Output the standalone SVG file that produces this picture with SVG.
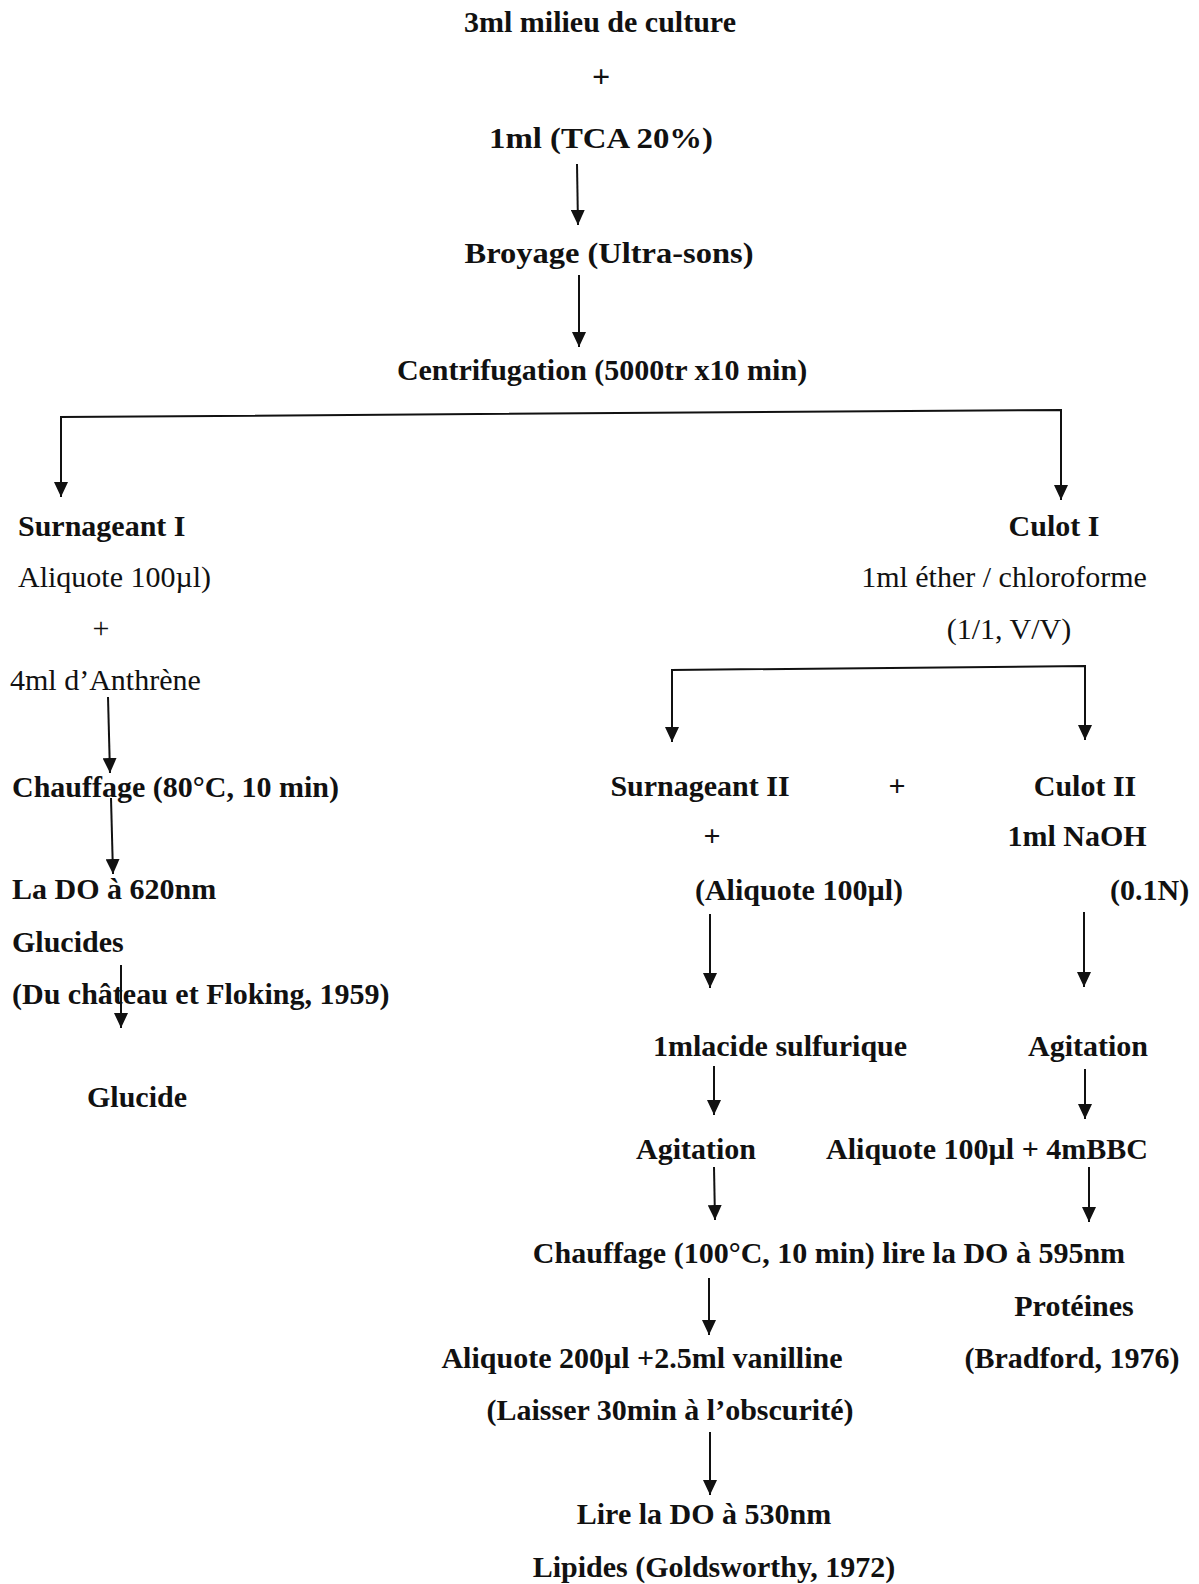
<svg xmlns="http://www.w3.org/2000/svg" width="1199" height="1584" viewBox="0 0 1199 1584">
<defs>
<marker id="ah" markerWidth="15" markerHeight="14" refX="15" refY="7" orient="auto" markerUnits="userSpaceOnUse">
<path d="M0,0 L15,7 L0,14 z" fill="#111"/>
</marker>
<style>
text{font-family:"Liberation Serif","Times New Roman",serif;font-size:30px;fill:#111}
.b{font-weight:bold}
.m{text-anchor:middle}
.c{fill:none;stroke:#111;stroke-width:2}
.a{marker-end:url(#ah)}
</style>
</defs>
<rect width="1199" height="1584" fill="#fff"/>
<g id="connectors">
<line class="c a" x1="577" y1="164" x2="578" y2="225"/>
<line class="c a" x1="579" y1="275" x2="579" y2="347"/>
<polyline class="c" points="61,440 61,417 1061,410 1061,440"/>
<line class="c a" x1="61" y1="417" x2="61" y2="497"/>
<line class="c a" x1="1061" y1="410" x2="1061" y2="500"/>
<polyline class="c" points="672,700 672,670 1085,666 1085,700"/>
<line class="c a" x1="672" y1="670" x2="672" y2="742"/>
<line class="c a" x1="1085" y1="666" x2="1085" y2="740"/>
<line class="c a" x1="108" y1="697" x2="110" y2="773"/>
<line class="c a" x1="111" y1="798" x2="113" y2="874"/>
<line class="c a" x1="121" y1="965" x2="121" y2="1028"/>
<line class="c a" x1="710" y1="914" x2="710" y2="988"/>
<line class="c a" x1="1084" y1="912" x2="1084" y2="987"/>
<line class="c a" x1="714" y1="1066" x2="714" y2="1115"/>
<line class="c a" x1="1085" y1="1069" x2="1085" y2="1119"/>
<line class="c a" x1="714" y1="1167" x2="715" y2="1220"/>
<line class="c a" x1="1089" y1="1167" x2="1089" y2="1222"/>
<line class="c a" x1="709" y1="1278" x2="709" y2="1335"/>
<line class="c a" x1="710" y1="1432" x2="710" y2="1495"/>
</g>
<g id="n_milieu"><text class="b m" x="600" y="32">3ml milieu de culture</text></g>
<g id="n_plus1"><text class="b m" x="601" y="87" style="font-size:32px">+</text></g>
<g id="n_tca"><text class="b m" x="601" y="148" textLength="224" lengthAdjust="spacingAndGlyphs">1ml (TCA 20%)</text></g>
<g id="n_broyage"><text class="b m" x="609" y="263" textLength="289" lengthAdjust="spacingAndGlyphs">Broyage (Ultra-sons)</text></g>
<g id="n_centri"><text class="b m" x="602" y="380">Centrifugation (5000tr x10 min)</text></g>
<g id="n_surn1">
<text class="b" x="18" y="536">Surnageant I</text>
<text x="18" y="587">Aliquote 100µl)</text>
<text class="m" x="101" y="638">+</text>
<text x="10" y="690">4ml d’Anthrène</text>
</g>
<g id="n_chauff1"><text class="b" x="12" y="797">Chauffage (80°C, 10 min)</text></g>
<g id="n_do620">
<text class="b" x="12" y="899">La DO à 620nm</text>
<text class="b" x="12" y="952">Glucides</text>
<text class="b" x="12" y="1004">(Du château et Floking, 1959)</text>
</g>
<g id="n_glucide"><text class="b" x="87" y="1107">Glucide</text></g>
<g id="n_culot1">
<text class="b m" x="1054" y="536">Culot I</text>
<text class="m" x="1004" y="587">1ml éther / chloroforme</text>
<text class="m" x="1009" y="639">(1/1, V/V)</text>
</g>
<g id="n_surn2">
<text class="b m" x="700" y="796">Surnageant II</text>
<text class="m b" x="712" y="846">+</text>
<text class="b m" x="799" y="900">(Aliquote 100µl)</text>
</g>
<g id="n_plus2"><text class="m b" x="897" y="796">+</text></g>
<g id="n_culot2">
<text class="b m" x="1085" y="796">Culot II</text>
<text class="b m" x="1077" y="846">1ml NaOH</text>
<text class="b" x="1110" y="900">(0.1N)</text>
</g>
<g id="n_acide"><text class="b m" x="780" y="1056">1mlacide sulfurique</text></g>
<g id="n_agit2"><text class="b m" x="1088" y="1056">Agitation</text></g>
<g id="n_agit1"><text class="b m" x="696" y="1159">Agitation</text></g>
<g id="n_bbc"><text class="b m" x="987" y="1159">Aliquote 100µl + 4mBBC</text></g>
<g id="n_chauff2"><text class="b m" x="829" y="1263">Chauffage (100°C, 10 min) lire la DO à 595nm</text></g>
<g id="n_prot">
<text class="b m" x="1074" y="1316">Protéines</text>
<text class="b m" x="1072" y="1368">(Bradford, 1976)</text>
</g>
<g id="n_vanil">
<text class="b m" x="642" y="1368">Aliquote 200µl +2.5ml vanilline</text>
<text class="b m" x="670" y="1420">(Laisser 30min à l’obscurité)</text>
</g>
<g id="n_lipides">
<text class="b m" x="704" y="1524">Lire la DO à 530nm</text>
<text class="b m" x="714" y="1577">Lipides (Goldsworthy, 1972)</text>
</g>
</svg>
